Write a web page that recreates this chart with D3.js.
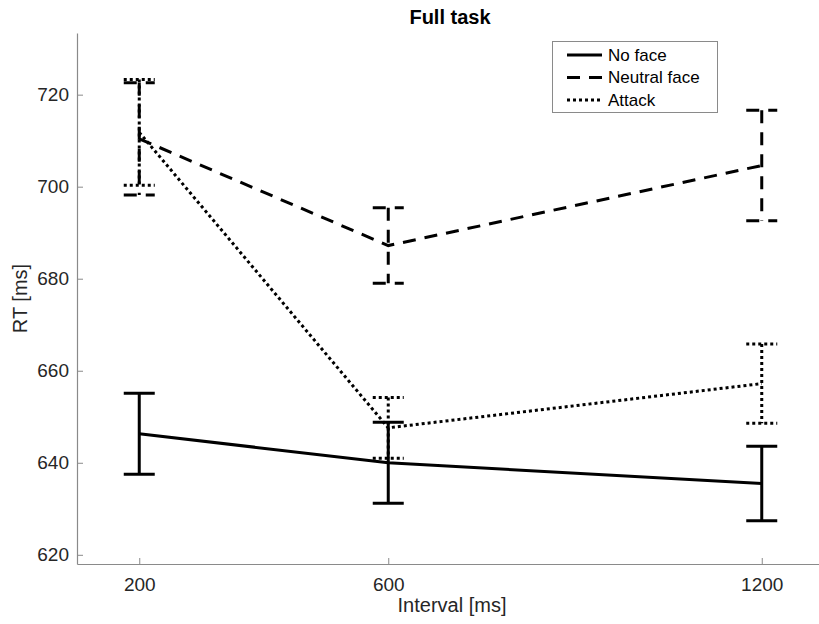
<!DOCTYPE html>
<html>
<head>
<meta charset="utf-8">
<script src="https://cdn.jsdelivr.net/npm/d3@7"></script>
<style>
  body { margin: 0; background: #fff; }
  text { font-family: "Liberation Sans", Arial, sans-serif; }
</style>
</head>
<body>
<script>
// data
var intervals = [200, 600, 1200];
var seriesNames = ["No face", "Neutral face", "Attack"];
var noFace = [646.3, 640.0, 635.5];
var noFaceErr = [8.8, 8.8, 8.1];
var neutral = [710.4, 687.2, 704.6];
var neutralErr = [12.2, 8.2, 12.0];
var attack = [711.8, 647.6, 657.2];
var attackErr = [11.5, 6.6, 8.6];
var xTicks = [200, 600, 1200];
var yTicks = [620, 640, 660, 680, 700, 720];

var width = 819, height = 624;
var mLeft = 77, mRight = 824, mTop = 33, mBottom = 564;

var svg = d3.select("body").append("svg")
  .attr("width", width)
  .attr("height", height);

var x = d3.scaleLinear().domain([100, 1300]).range([mLeft, mRight]);
var y = d3.scaleLinear().domain([618, 733.4]).range([mBottom, mTop]);

var axisCol = "#8a8a8a";
var textCol = "#262626";

// axes
var gx = svg.append("g").attr("transform", "translate(0," + mBottom + ")")
  .call(d3.axisBottom(x).tickValues(xTicks).tickFormat(d3.format("d"))
    .tickSizeInner(-6).tickSizeOuter(0).tickPadding(14));
var gy = svg.append("g").attr("transform", "translate(" + mLeft + ",0)")
  .call(d3.axisLeft(y).tickValues(yTicks).tickFormat(d3.format("d"))
    .tickSizeInner(-6).tickSizeOuter(0).tickPadding(8));
[gx, gy].forEach(function (g) {
  g.select(".domain").attr("stroke", axisCol).attr("stroke-width", 1.2);
  g.selectAll(".tick line").attr("stroke", axisCol).attr("stroke-width", 1);
  g.selectAll(".tick text").attr("fill", textCol).style("font-size", "19px")
    .style("font-family", "'Liberation Sans', Arial, sans-serif");
});

var series = [
  {name: seriesNames[0], vals: noFace, err: noFaceErr, dash: null},
  {name: seriesNames[1], vals: neutral, err: neutralErr, dash: "13,9"},
  {name: seriesNames[2], vals: attack, err: attackErr, dash: "3,3"}
];

var line = d3.line()
  .x(function (d) { return x(d.x); })
  .y(function (d) { return y(d.y); });

var capW = 15.5;
series.forEach(function (s) {
  var pts = intervals.map(function (v, i) { return {x: v, y: s.vals[i], e: s.err[i]}; });
  var g = svg.append("g");
  g.append("path")
    .attr("d", line(pts))
    .attr("fill", "none")
    .attr("stroke", "#000")
    .attr("stroke-width", 3)
    .attr("stroke-dasharray", s.dash);
  pts.forEach(function (p) {
    var cx = x(p.x), yt = y(p.y + p.e), yb = y(p.y - p.e);
    var d = "M" + (cx - capW) + "," + yt + "H" + (cx + capW) +
      "M" + cx + "," + yt + "V" + yb +
      "M" + (cx - capW) + "," + yb + "H" + (cx + capW);
    g.append("path")
      .attr("d", d)
      .attr("fill", "none")
      .attr("stroke", "#000")
      .attr("stroke-width", 3)
      .attr("stroke-dasharray", s.dash);
  });
});

// title and labels
svg.append("text").attr("x", 450).attr("y", 24).attr("text-anchor", "middle")
  .style("font-size", "20px").style("font-weight", "bold").attr("fill", "#000")
  .text("Full task");
svg.append("text").attr("x", 452).attr("y", 612).attr("text-anchor", "middle")
  .style("font-size", "20px").attr("fill", textCol)
  .text("Interval [ms]");
svg.append("text").attr("transform", "translate(27," + ((mTop + mBottom) / 2) + ") rotate(-90)")
  .attr("text-anchor", "middle")
  .style("font-size", "20px").attr("fill", textCol)
  .text("RT [ms]");

// legend
var lg = svg.append("g");
lg.append("rect").attr("x", 552.5).attr("y", 41.5).attr("width", 165).attr("height", 71)
  .attr("fill", "#fff").attr("stroke", axisCol).attr("stroke-width", 1);
series.forEach(function (s, i) {
  var ly = 55 + i * 22.5;
  lg.append("line").attr("x1", 567).attr("x2", 602).attr("y1", ly).attr("y2", ly)
    .attr("stroke", "#000").attr("stroke-width", 3).attr("stroke-dasharray", s.dash);
  lg.append("text").attr("x", 608).attr("y", ly).attr("dy", "0.35em")
    .style("font-size", "17px").attr("fill", "#000").text(s.name);
});
</script>
</body>
</html>
